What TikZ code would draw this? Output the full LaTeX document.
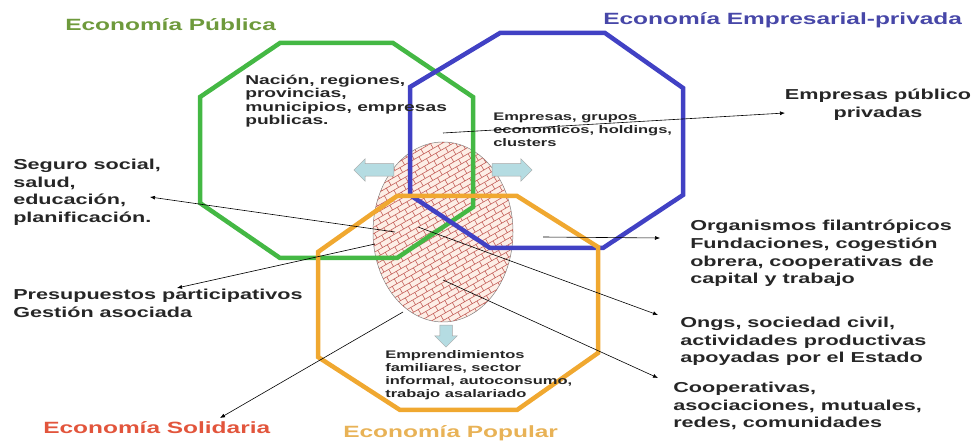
\documentclass[tikz,border=0pt]{standalone}
\usepackage{fontspec}
\newfontfamily\labfont{Liberation Sans}[FakeStretch=1.5]
\usetikzlibrary{arrows.meta}
\usetikzlibrary{shapes.arrows,shapes.geometric}
\usetikzlibrary{patterns.meta}
\definecolor{pubgreen}{HTML}{44B844}
\definecolor{privblue}{HTML}{4141C4}
\definecolor{popgold}{HTML}{F0A830}
\definecolor{tgreen}{HTML}{6E9A3C}
\definecolor{tblue}{HTML}{4747A8}
\definecolor{tred}{HTML}{E2553C}
\definecolor{tgold}{HTML}{E8B256}
\definecolor{arrowblue}{HTML}{B5DCE2}
\definecolor{brickred}{HTML}{C4605A}
\definecolor{brickfill}{HTML}{FDEEE6}
\definecolor{txt}{HTML}{262626}
\tikzset{every picture/.style={line width=0.2mm}}
\tikzdeclarepattern{
  name=bricks,
  type=uncolored,
  bounding box={(-.5pt,-.5pt) and (22.5pt,11.5pt)},
  tile size={(22pt,11pt)},
  tile transformation={rotate=30},
  code={
    \draw[line width=.6pt] (0pt,0pt) -- (22pt,0pt) (0pt,5.5pt) -- (22pt,5.5pt)
      (0pt,0pt) -- (0pt,5.5pt) (11pt,0pt) -- (11pt,5.5pt)
      (5.5pt,5.5pt) -- (5.5pt,11pt) (16.5pt,5.5pt) -- (16.5pt,11pt);
  }
}
\tikzset{
  ring/.style={line width=4.5pt, line join=miter},
  econtitle/.style={font={\labfont\bfseries\fontsize{16.3}{19}\selectfont}, anchor=west, inner sep=0pt},
  labbig/.style={font={\labfont\bfseries\fontsize{14.4}{17.6}\selectfont}, text=txt, align=left, anchor=north west, inner sep=0pt},
  labsmall/.style={font={\labfont\bfseries\fontsize{11}{13}\selectfont}, text=txt, align=left, anchor=north west, inner sep=0pt},
  lead/.style={-{Latex[length=5pt,width=4pt]}, line width=0.6pt},
  fatarrow/.style={single arrow, draw=gray!70, fill=arrowblue, minimum height=40pt, minimum width=22pt,
    single arrow head extend=5pt, inner sep=6pt, line width=0.5pt}
}
\begin{document}
\begin{tikzpicture}[x=1pt,y=-1pt]
          \useasboundingbox (0,0) rectangle (975,443);
          \node (core) [ellipse, draw=gray, line width=0.5pt, fill=brickfill, minimum width=140pt, minimum height=180pt,
            inner sep=0pt, outer sep=0pt, postaction={pattern=bricks, pattern color=brickred}] at (443,232) {};
          \draw[ring, pubgreen] (280,43) -- (393,43) -- (473,97) -- (473,207) -- (397,258) -- (280,258) -- (200,203) -- (200,97) -- cycle;
          \draw[ring, privblue] (500,33) -- (605,33) -- (683,88) -- (683,195) -- (603,248) -- (490,248) -- (410,195) -- (410,87) -- cycle;
          \draw[ring, popgold] (397,196) -- (517,196) -- (598,247) -- (598,353) -- (517,410) -- (400,410) -- (318,357) -- (318,252) -- cycle;
          \node (arwL) [fatarrow, shape border rotate=180] at (377,170) {};
          \node (arwR) [fatarrow] at (509,170) {};
          \node (arwD) [fatarrow, shape border rotate=270, minimum height=22pt] at (446,333) {};

          \node (pub) [econtitle, text=tgreen] at (65,25) {Economía Pública};
          \node (priv) [econtitle, text=tblue] at (603,20) {Economía Empresarial-privada};
          \node (sol) [econtitle, text=tred] at (43,428) {Economía Solidaria};
          \node (popu) [econtitle, text=tgold] at (343,433) {Economía Popular};

          \node (nacion) [labsmall, font={\labfont\bfseries\fontsize{12.8}{13.2}\selectfont}] at (245,75) {Nación, regiones,\\provincias,\\municipios, empresas\\publicas.};
          \node (grupos) [labsmall] at (493,113) {Empresas, grupos\\economicos, holdings,\\clusters};
          \node (emprend) [labsmall] at (385,350) {Emprendimientos\\familiares, sector\\informal, autoconsumo,\\trabajo asalariado};

          \node (mixta) [labbig, anchor=north, align=center] at (878,89) {Empresas público\\privadas};
          \node (seguro) [labbig] at (13,159) {Seguro social,\\salud,\\educación,\\planificación.};
          \node (presup) [labbig] at (13,289) {Presupuestos participativos\\Gestión asociada};
          \node (organ) [labbig] at (690,220) {Organismos filantrópicos\\Fundaciones, cogestión\\obrera, cooperativas de\\capital y trabajo};
          \node (ongs) [labbig] at (680,317) {Ongs, sociedad civil,\\actividades productivas\\apoyadas por el Estado};
          \node (coop) [labbig] at (673,382) {Cooperativas,\\asociaciones, mutuales,\\redes, comunidades};

          \coordinate (sPP) at (443,133);  \coordinate (tPP) at (785,113);
          \coordinate (sSeg) at (395,232); \coordinate (tSeg) at (150,197);
          \coordinate (sPre) at (375,244); \coordinate (tPre) at (177,288);
          \coordinate (sSol) at (403,312); \coordinate (tSol) at (220,418);
          \coordinate (sOrg) at (543,237); \coordinate (tOrg) at (660,238);
          \coordinate (sOng) at (418,227); \coordinate (tOng) at (658,315);
          \coordinate (sCoop) at (443,280); \coordinate (tCoop) at (658,378);

          \draw[lead] (sPP) -- (tPP);
          \draw[lead] (sSeg) -- (tSeg);
          \draw[lead] (sPre) -- (tPre);
          \draw[lead] (sSol) -- (tSol);
          \draw[lead] (sOrg) -- (tOrg);
          \draw[lead] (sOng) -- (tOng);
          \draw[lead] (sCoop) -- (tCoop);
\end{tikzpicture}
\end{document}
